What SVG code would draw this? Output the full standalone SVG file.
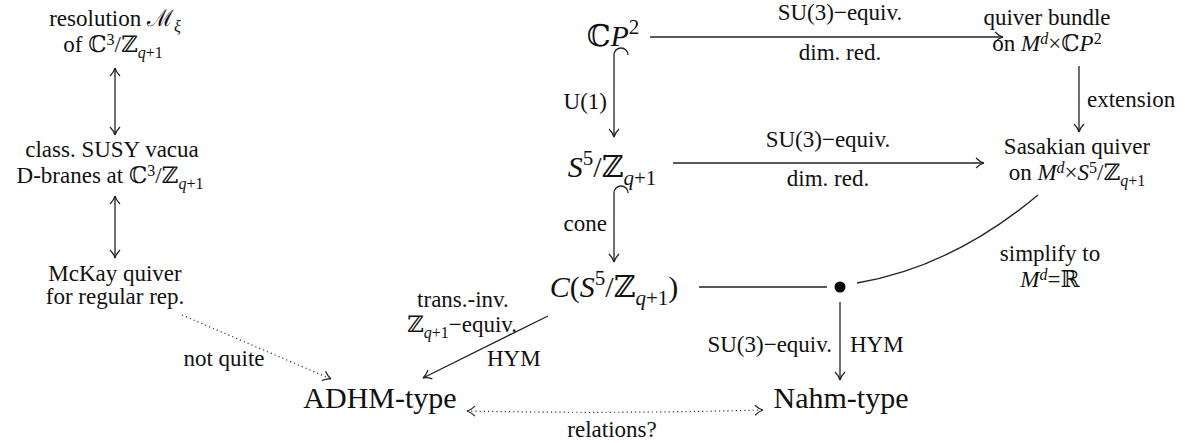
<svg xmlns="http://www.w3.org/2000/svg" width="1185" height="443" viewBox="0 0 1185 443">
<style>
text{font-family:"Liberation Serif","DejaVu Serif",serif;fill:#111}
.s{font-size:23px}
.b{font-size:30px}
.i{font-style:italic}
.ss{font-size:16px}
.bs{font-size:21px}
.ln{fill:none;stroke:#222;stroke-width:1.3}
.dot{fill:none;stroke:#333;stroke-width:1.2;stroke-dasharray:1.2 3}
.hd{fill:none;stroke:#222;stroke-width:1.2}
</style>
<defs>
<marker id="ah" viewBox="-9 -6 11 12" markerWidth="11" markerHeight="12" refX="0" refY="0" markerUnits="userSpaceOnUse" orient="auto-start-reverse">
<path class="hd" d="M -8 -5 C -5 -2 -2 -0.5 0 0 C -2 0.5 -5 2 -8 5"/>
</marker>
</defs>

<g id="connectors">
<line class="ln" x1="115" y1="68" x2="115" y2="135" marker-start="url(#ah)" marker-end="url(#ah)"/>
<line class="ln" x1="115" y1="196" x2="115" y2="258" marker-start="url(#ah)" marker-end="url(#ah)"/>
<line class="dot" x1="182" y1="315" x2="331" y2="379" marker-end="url(#ah)"/>
<path class="ln" d="M 628 55 A 7 7 0 0 0 614 55 L 614 137" marker-end="url(#ah)"/>
<path class="ln" d="M 628 193 A 7 7 0 0 0 614 193 L 614 262" marker-end="url(#ah)"/>
<line class="ln" x1="650" y1="37" x2="1003" y2="37" marker-end="url(#ah)"/>
<line class="ln" x1="673" y1="163" x2="984" y2="163" marker-end="url(#ah)"/>
<line class="ln" x1="1079" y1="66" x2="1079" y2="132" marker-end="url(#ah)"/>
<line class="ln" x1="699" y1="287" x2="827" y2="287"/>
<path class="ln" d="M 857 283 Q 952 267 1038 195"/>
<line class="ln" x1="840" y1="302" x2="840" y2="380" marker-end="url(#ah)"/>
<line class="ln" x1="548" y1="316" x2="423" y2="378" marker-end="url(#ah)"/>
<path class="dot" d="M 467 411 Q 615 414 763 410" marker-start="url(#ah)" marker-end="url(#ah)"/>
</g>

<g id="labels">
<text class="s" x="840" y="20" text-anchor="middle">SU(3)−equiv.</text>
<text class="s" x="840" y="60" text-anchor="middle">dim. red.</text>
<text class="s" x="828" y="147" text-anchor="middle">SU(3)−equiv.</text>
<text class="s" x="828" y="186" text-anchor="middle">dim. red.</text>
<text class="s" x="607" y="109" text-anchor="end">U(1)</text>
<text class="s" x="607" y="231" text-anchor="end">cone</text>
<text class="s" x="1087" y="107">extension</text>
<text class="s" text-anchor="middle"><tspan x="1050" y="261">simplify to</tspan><tspan x="1050" y="287" class="i">M</tspan><tspan class="ss i" dy="-7">d</tspan><tspan dy="7">=ℝ</tspan></text>
<text class="s" x="832" y="352" text-anchor="end">SU(3)−equiv.</text>
<text class="s" x="850" y="352">HYM</text>
<text class="s" text-anchor="middle"><tspan x="463" y="307">trans.-inv.</tspan><tspan x="462" y="332">ℤ</tspan><tspan class="ss i" dy="6">q</tspan><tspan class="ss">+1</tspan><tspan dy="-6">−equiv.</tspan></text>
<text class="s" x="487" y="366">HYM</text>
<text class="s" x="224" y="366" text-anchor="middle">not quite</text>
<text class="s" x="612" y="437" text-anchor="middle">relations?</text>
</g>

<g id="resolution">
<text class="s" text-anchor="middle"><tspan x="115" y="26">resolution ℳ</tspan><tspan class="ss i" dy="6">ξ</tspan><tspan x="113" y="52">of ℂ</tspan><tspan class="ss" dy="-7">3</tspan><tspan dy="7">/ℤ</tspan><tspan class="ss i" dy="6">q</tspan><tspan class="ss">+1</tspan></text>
</g>

<g id="susy-vacua">
<text class="s" text-anchor="middle"><tspan x="112" y="157">class. SUSY vacua</tspan><tspan x="110" y="183">D-branes at ℂ</tspan><tspan class="ss" dy="-7">3</tspan><tspan dy="7">/ℤ</tspan><tspan class="ss i" dy="6">q</tspan><tspan class="ss">+1</tspan></text>
</g>

<g id="mckay">
<text class="s" text-anchor="middle"><tspan x="115" y="281">McKay quiver</tspan><tspan x="115" y="304">for regular rep.</tspan></text>
</g>

<g id="cp2">
<text class="b" x="613" y="46" text-anchor="middle">ℂ<tspan class="i">P</tspan><tspan class="bs" dy="-12">2</tspan></text>
</g>

<g id="s5">
<text class="b" x="612" y="177" text-anchor="middle"><tspan class="i">S</tspan><tspan class="bs" dy="-12">5</tspan><tspan dy="12">/ℤ</tspan><tspan class="bs i" dy="8">q</tspan><tspan class="bs">+1</tspan></text>
</g>

<g id="cone-node">
<text class="b" x="614" y="297" text-anchor="middle"><tspan class="i">C</tspan>(<tspan class="i">S</tspan><tspan class="bs" dy="-12">5</tspan><tspan dy="12">/ℤ</tspan><tspan class="bs i" dy="8">q</tspan><tspan class="bs">+1</tspan><tspan dy="-8">)</tspan></text>
</g>

<g id="quiver-bundle">
<text class="s" text-anchor="middle"><tspan x="1047" y="25">quiver bundle</tspan><tspan x="1047" y="51">on </tspan><tspan class="i">M</tspan><tspan class="ss i" dy="-7">d</tspan><tspan dy="7">×ℂ</tspan><tspan class="i">P</tspan><tspan class="ss" dy="-7">2</tspan></text>
</g>

<g id="sasakian">
<text class="s" text-anchor="middle"><tspan x="1077" y="154">Sasakian quiver</tspan><tspan x="1077" y="180">on </tspan><tspan class="i">M</tspan><tspan class="ss i" dy="-7">d</tspan><tspan dy="7">×</tspan><tspan class="i">S</tspan><tspan class="ss" dy="-7">5</tspan><tspan dy="7">/ℤ</tspan><tspan class="ss i" dy="6">q</tspan><tspan class="ss">+1</tspan></text>
</g>

<g id="bullet">
<circle cx="840" cy="287" r="5.5" fill="#000"/>
</g>

<g id="adhm">
<text class="b" x="380" y="408" text-anchor="middle">ADHM-type</text>
</g>

<g id="nahm">
<text class="b" x="841" y="408" text-anchor="middle">Nahm-type</text>
</g>
</svg>
